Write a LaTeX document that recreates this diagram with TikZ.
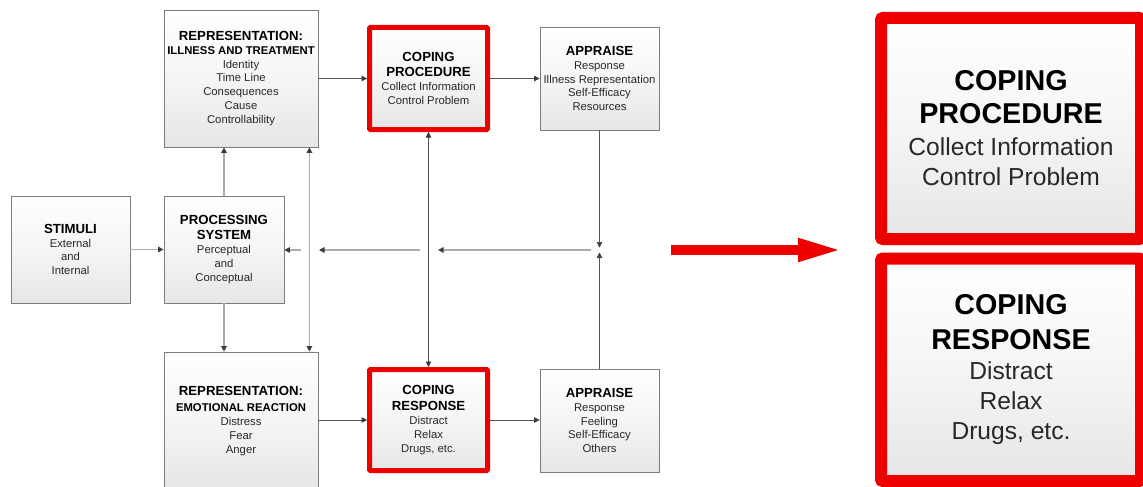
\documentclass[tikz,border=0pt]{standalone}
\usepackage{fontspec}
\setmainfont{Liberation Sans}
\usetikzlibrary{arrows.meta}

\definecolor{boxline}{RGB}{125,125,125}
\definecolor{darkln}{RGB}{85,85,85}
\definecolor{lightln}{RGB}{172,172,172}
\definecolor{tipcol}{RGB}{60,60,60}
\definecolor{hotred}{RGB}{236,0,0}
\definecolor{txt}{RGB}{40,40,40}
\definecolor{boxbot}{RGB}{230,230,230}

% headings inside the boxes
\newcommand\hd[1]{{\fontsize{13.2}{15}\bfseries\color{black}#1}}
\newcommand\subhd[1]{{\fontsize{11.3}{13}\bfseries\color{black}#1}}
\newcommand\bhd[1]{{\fontsize{28.7}{33}\bfseries\color{black}#1}}

\tikzset{
  card/.style={draw=boxline, line width=0.8pt, top color=white, bottom color=boxbot,
    middle color=white!60!boxbot, align=center, inner sep=0pt, text=txt,
    font=\fontsize{11.3}{13.8}\selectfont},
  redcard/.style={card, draw=hotred, line width=5pt, rounded corners=1pt},
  bigcard/.style={card, draw=hotred, line width=12pt, rounded corners=2pt,
    font=\fontsize{24.6}{30}\selectfont},
  dk/.style={draw=darkln, line width=0.7pt},
  lt/.style={draw=lightln, line width=1.4pt},
  >={Triangle[length=5.5pt,width=5.5pt,color=tipcol]},
}

\begin{document}
\begin{tikzpicture}[x=1pt,y=-1pt]
  \fill[white] (0,0) rectangle (1143,487);
  \useasboundingbox (0,0) rectangle (1143,487);
  \clip (0,0) rectangle (1143,487);

  % model boxes
  \node[card, minimum width=154pt, minimum height=137pt] (rep1) at (241,78.5)
    {\hd{REPRESENTATION:}\\\subhd{ILLNESS AND TREATMENT}\\Identity\\Time Line\\Consequences\\Cause\\Controllability};
  \node[card, minimum width=119pt, minimum height=107pt] (stim) at (70.5,249.5)
    {\hd{STIMULI}\\External\\and\\Internal};
  \node[card, minimum width=120pt, minimum height=107pt] (proc) at (224,249.5)
    {\hd{PROCESSING}\\[1pt]\hd{SYSTEM}\\[1pt]Perceptual\\and\\Conceptual};
  \node[card, minimum width=154pt, minimum height=138pt] (rep2) at (241,421)
    {\hd{REPRESENTATION:}\\[2pt]\subhd{EMOTIONAL REACTION}\\Distress\\Fear\\Anger};
  \node[redcard, minimum width=118pt, minimum height=102pt] (cp) at (428.5,78.5)
    {\hd{COPING}\\[1pt]\hd{PROCEDURE}\\[1pt]Collect Information\\Control Problem};
  \node[card, minimum width=119pt, minimum height=103pt] (ap1) at (599.5,78.5)
    {\hd{APPRAISE}\\Response\\Illness Representation\\Self-Efficacy\\Resources};
  \node[redcard, minimum width=118pt, minimum height=101pt] (cr) at (428.5,420)
    {\hd{COPING}\\[2pt]\hd{RESPONSE}\\Distract\\Relax\\Drugs, etc.};
  \node[card, minimum width=119pt, minimum height=103pt] (ap2) at (599.5,420.5)
    {\hd{APPRAISE}\\Response\\Feeling\\Self-Efficacy\\Others};

  % enlarged coping boxes
  \node[bigcard, minimum width=260pt, minimum height=221pt] (big1) at (1011,128.5)
    {\bhd{COPING}\\[3pt]\bhd{PROCEDURE}\\[2pt]Collect Information\\Control Problem};
  \node[bigcard, minimum width=260pt, minimum height=222.5pt] (big2) at (1011,369.75)
    {\bhd{COPING}\\[5pt]\bhd{RESPONSE}\\Distract\\Relax\\Drugs, etc.};

  % free ends of the feedback line
  \coordinate (jt) at (599.5,247.5);
  \coordinate (jb) at (599.5,252.5);
  \coordinate (h1) at (591,250);
  \coordinate (h2) at (438,250);
  \coordinate (h3) at (420,250);
  \coordinate (h4) at (319,250);
  \coordinate (h5) at (301,250);

  % connectors
  \draw[dk,->] (rep1) -- (cp);
  \draw[dk,->] (cp) -- (ap1);
  \draw[dk,->] (ap1) -- (jt);
  \draw[dk,->] (ap2) -- (jb);
  \draw[dk,<->] (cp) -- (cr);
  \draw[dk,->] (cr.west -| rep2.east) -- (cr.west);
  \draw[dk,->] (cr.east) -- (cr.east -| ap2.west);

  \draw[lt,->] (stim) -- (proc);
  \draw[lt,->] (proc.north) -- (proc.north |- rep1.south);
  \draw[lt,->] (proc.south) -- (proc.south |- rep2.north);
  \draw[lt,<->] ([xshift=-9pt]rep1.south east) -- ([xshift=-9pt]rep2.north east);
  \draw[lt,->] (h1) -- (h2);
  \draw[lt,->] (h3) -- (h4);
  \draw[lt,->] (h5) -- (h5 -| proc.east);

  % pointer to the enlarged boxes
  \coordinate (ra) at (671,250);
  \coordinate (rb) at (843,250);
  \draw[hotred, line width=10pt, -{Triangle[length=45pt,width=21pt]}] (ra) -- (rb);
\end{tikzpicture}
\end{document}
